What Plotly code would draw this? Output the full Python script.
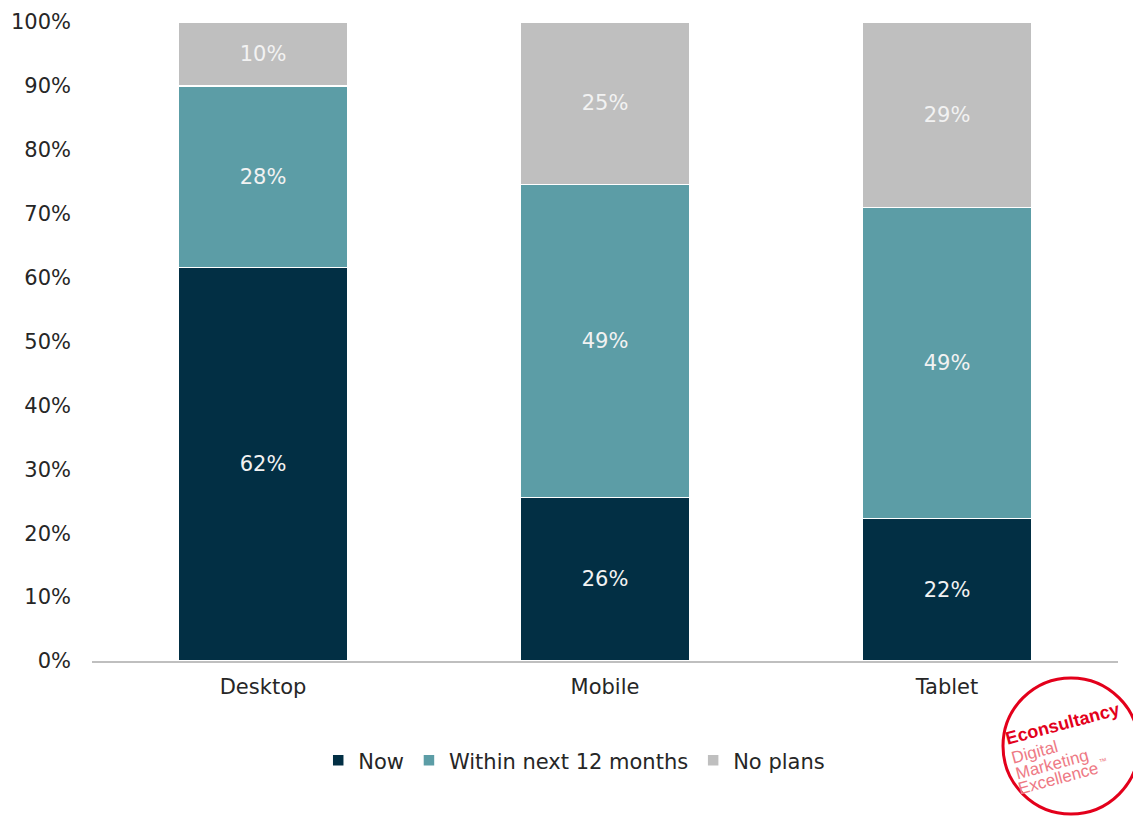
import plotly.graph_objects as go

categories = ["Desktop", "Mobile", "Tablet"]
now = [61.6, 25.6, 22.3]
within_12 = [28.4, 49.0, 48.7]
no_plans = [10.0, 25.4, 29.0]
series_names = ["Now", "Within next 12 months", "No plans"]
colors = ["#022F44", "#5C9DA6", "#BFBFBF"]
y_ticks = [0, 10, 20, 30, 40, 50, 60, 70, 80, 90, 100]

FONT = "DejaVu Sans"

fig = go.Figure()
for name, vals, col in zip(series_names, [now, within_12, no_plans], colors):
    fig.add_trace(go.Bar(
        x=categories, y=vals, name=name,
        marker=dict(color=col, line=dict(color="#FFFFFF", width=1.5)),
        texttemplate="%{y:.0f}%", textposition="inside", insidetextanchor="middle",
        textangle=0, textfont=dict(color="#F2F2F2", size=21, family=FONT),
    ))

# page body has an 8px margin, so the figure is offset by 8px
fig.update_layout(
    barmode="stack", bargap=0.505,
    width=1133, height=808,
    margin=dict(l=84, r=23, t=14, b=155, autoexpand=False),
    plot_bgcolor="white", paper_bgcolor="white",
    font=dict(family=FONT, size=21, color="#262626"),
    legend=dict(orientation="h", x=0.47, xanchor="center", y=-0.156, yanchor="middle",
                font=dict(size=21, color="#262626"), itemwidth=30, traceorder="normal"),
    xaxis=dict(showline=True, linecolor="#BFBFBF", linewidth=1.5, ticks="",
               tickfont=dict(size=21), showgrid=False, ticklabelstandoff=6),
    yaxis=dict(range=[0, 100], tickvals=y_ticks, ticktext=[f"{v}%" for v in y_ticks],
               showgrid=False, zeroline=False, showline=False, tickfont=dict(size=21),
               ticks="", ticklabelstandoff=20),
)

# Logo (paper coordinates: x=(px-92)/1026, y=(661-py)/639 in screenshot px)
def px(x, y):
    return (x - 92) / 1026, (661 - y) / 639

x0, y0 = px(1003, 814)
x1, y1 = px(1139, 678)
fig.add_shape(type="circle", xref="paper", yref="paper", x0=x0, x1=x1, y0=y0, y1=y1,
              line=dict(color="#E3001B", width=3), fillcolor="white")
logo_lines = [("<b>Econsultancy</b>", 1062, 724, 18, "#E3001B"),
              ("Digital", 1034, 752, 17, "#EE7A85"),
              ("Marketing", 1052, 765, 17, "#EE7A85"),
              ("Excellence", 1058, 778, 17, "#EE7A85"),
              ("™", 1103, 761, 8, "#EE7A85")]
for txt, lx, ly, sz, col in logo_lines:
    ax, ay = px(lx, ly)
    fig.add_annotation(xref="paper", yref="paper", x=ax, y=ay,
                       xanchor="center", yanchor="middle",
                       showarrow=False, textangle=-15, text=txt,
                       font=dict(size=sz, family="Liberation Sans", color=col))

fig.write_html("out.html")
